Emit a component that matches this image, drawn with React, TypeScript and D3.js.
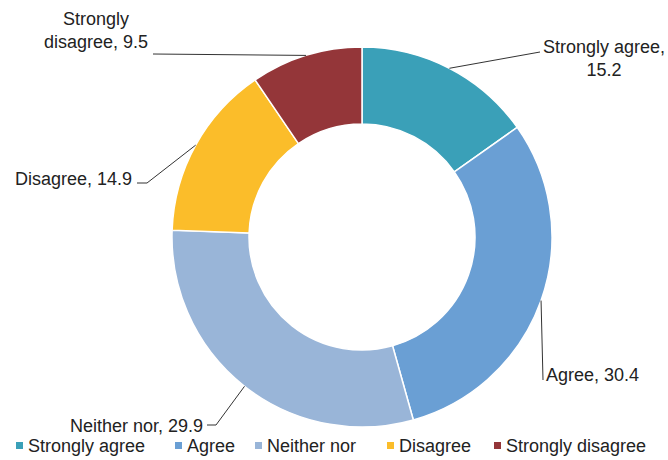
import React from "react";
import * as d3 from "d3";

const categories = ["Strongly agree", "Agree", "Neither nor", "Disagree", "Strongly disagree"];
const values = [15.2, 30.4, 29.9, 14.9, 9.5];
const colors = ["#3aa0b8", "#6a9fd4", "#99b5d8", "#fbbd2a", "#943639"];

// label layout: elbow point, text position, anchor, lines
const labelLayout = [
  { elbow: [540, 52], end: null, tx: 604, ty: 53, anchor: "middle", lines: ["Strongly agree,", "15.2"] },
  { elbow: [543, 380], end: null, tx: 546, ty: 381, anchor: "start", lines: ["Agree, 30.4"] },
  { elbow: [216, 425], end: [207, 425], tx: 203, ty: 432, anchor: "end", lines: ["Neither nor, 29.9"] },
  { elbow: [147, 183], end: [137, 183], tx: 132, ty: 185, anchor: "end", lines: ["Disagree, 14.9"] },
  { elbow: [153, 54], end: null, tx: 96, ty: 25, anchor: "middle", lines: ["Strongly", "disagree, 9.5"] },
];
const legendX = [16, 175, 255, 387, 494];

const W = 668, H = 460;
const cx = 362, cy = 237, R = 190, r = 113;
const FONT = "'Liberation Sans', Arial, Helvetica, sans-serif";

export default function App() {
  const pie = d3.pie<number>().sort(null).value((d) => d)(values);
  const arc = d3.arc<d3.PieArcDatum<number>>().innerRadius(r).outerRadius(R);
  return (
    <svg width={W} height={H} style={{ position: "absolute", left: 0, top: 0, background: "#fff" }} fontFamily={FONT}>
      <g transform={`translate(${cx},${cy})`}>
        {pie.map((p, i) => (
          <path key={i} d={arc(p) || ""} fill={colors[i]} stroke="#fff" strokeWidth={1.5} />
        ))}
      </g>
      {pie.map((p, i) => {
        const a = (p.startAngle + p.endAngle) / 2;
        const x0 = cx + R * Math.sin(a);
        const y0 = cy - R * Math.cos(a);
        const L = labelLayout[i];
        const pts: [number, number][] = [[x0, y0], L.elbow as [number, number]];
        if (L.end) pts.push(L.end as [number, number]);
        return (
          <g key={i}>
            <path d={d3.line()(pts) || ""} fill="none" stroke="#333" strokeWidth={1} />
            <text x={L.tx} y={L.ty} textAnchor={L.anchor} fontSize={18} fill="#222">
              {L.lines.map((s, j) => (
                <tspan key={j} x={L.tx} dy={j === 0 ? 0 : 23}>{s}</tspan>
              ))}
            </text>
          </g>
        );
      })}
      <g>
        {categories.map((c, i) => (
          <g key={c} transform={`translate(${legendX[i]},442)`}>
            <rect x={0} y={0} width={7} height={7} fill={colors[i]} />
            <text x={12} y={10} fontSize={18} fill="#222">{c}</text>
          </g>
        ))}
      </g>
    </svg>
  );
}
